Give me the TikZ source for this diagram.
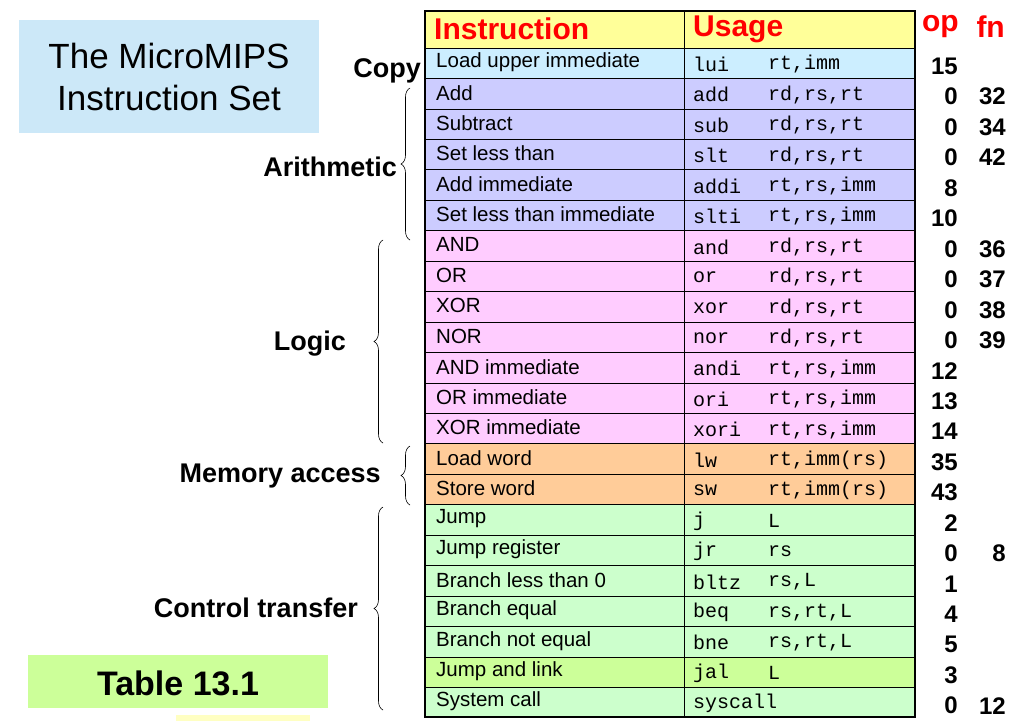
\documentclass[tikz,border=0pt]{standalone}
\usepackage{fontspec}
\setmainfont{Liberation Sans}
\setmonofont{Liberation Mono}
\usetikzlibrary{decorations.pathreplacing}
\definecolor{hdr}{HTML}{FFFF99}
\definecolor{cpy}{HTML}{CCEEFF}
\definecolor{ari}{HTML}{CCCCFF}
\definecolor{lgc}{HTML}{FFCCFF}
\definecolor{mem}{HTML}{FFCC99}
\definecolor{ctl}{HTML}{CCFFCC}
\definecolor{jal}{HTML}{CCFF99}
\definecolor{ttl}{HTML}{CCE8F8}
\definecolor{red1}{HTML}{FF0000}
\begin{document}
\begin{tikzpicture}[x=1pt,y=-1pt,
  cell/.style={draw=black,line width=0.8pt},
  itxt/.style={anchor=west,font=\fontsize{20.5}{20.5}\selectfont,inner sep=0},
  utxt/.style={anchor=west,font=\ttfamily\fontsize{20}{20}\selectfont,inner sep=0},
  num/.style={anchor=east,font=\bfseries\fontsize{24}{24}\selectfont,inner sep=0},
  grp/.style={anchor=east,font=\bfseries\fontsize{27}{27}\selectfont,inner sep=0},
  hd/.style={font=\bfseries\fontsize{30}{30}\selectfont,text=red1,inner sep=0},
  brc/.style={decorate,decoration={brace,amplitude=9pt},line width=0.6pt}]
\useasboundingbox (0,0) rectangle (1024,721);
\fill[white] (0,0) rectangle (1024,721);
% title boxes
\fill[ttl] (19,20) rectangle (319,133);
\node[align=center,font=\fontsize{35}{42}\selectfont] (title) at (169,77) {The MicroMIPS\\Instruction Set};
\fill[jal] (28,655) rectangle (328,708);
\node[font=\bfseries\fontsize{34}{34}\selectfont] (tab) at (178,683) {Table 13.1};
\fill[hdr!60] (176,715) rectangle (310,721);
% header
\fill[hdr] (425,11) rectangle (915,48);
\node[hd,anchor=west] (hi) at (434,29) {Instruction};
\node[hd,anchor=west] (hu) at (693,29) {Usage};
\node[hd,anchor=east] (hop) at (959,27) {op};
\node[hd,anchor=east] (hfn) at (1005,27) {fn};
\def\rh{30.45}
\foreach \i/\c/\t/\m/\o/\op/\fn in {
0/cpy/Load upper immediate/lui/{rt,imm}/15/,
1/ari/Add/add/{rd,rs,rt}/0/32,
2/ari/Subtract/sub/{rd,rs,rt}/0/34,
3/ari/Set less than/slt/{rd,rs,rt}/0/42,
4/ari/Add immediate/addi/{rt,rs,imm}/8/,
5/ari/Set less than immediate/slti/{rt,rs,imm}/10/,
6/lgc/AND/and/{rd,rs,rt}/0/36,
7/lgc/OR/or/{rd,rs,rt}/0/37,
8/lgc/XOR/xor/{rd,rs,rt}/0/38,
9/lgc/NOR/nor/{rd,rs,rt}/0/39,
10/lgc/AND immediate/andi/{rt,rs,imm}/12/,
11/lgc/OR immediate/ori/{rt,rs,imm}/13/,
12/lgc/XOR immediate/xori/{rt,rs,imm}/14/,
13/mem/Load word/lw/{rt,imm(rs)}/35/,
14/mem/Store word/sw/{rt,imm(rs)}/43/,
15/ctl/Jump/j/L/2/,
16/ctl/Jump register/jr/rs/0/8,
17/ctl/Branch less than 0/bltz/{rs,L}/1/,
18/ctl/Branch equal/beq/{rs,rt,L}/4/,
19/ctl/Branch not equal/bne/{rs,rt,L}/5/,
20/jal/Jump and link/jal/L/3/,
21/ctl/System call/syscall//0/12}{
  \pgfmathsetmacro\ya{48+\i*\rh}
  \pgfmathsetmacro\yb{48+(\i+1)*\rh}
  \pgfmathsetmacro\ym{48+(\i+0.5)*\rh}
  \fill[\c] (425,\ya) rectangle (915,\yb);
  \node[itxt] (i\i) at (436,\ym-1) {\t};
  \node[utxt] (m\i) at (693,\ym+1) {\m};
  \node[utxt] (o\i) at (768,\ym+1) {\o};
  \node[num] (op\i) at (958,\ym+3) {\op};
  \node[num] (fn\i) at (1006,\ym+3) {\fn};
}
\foreach \i in {0,...,21}{
  \pgfmathsetmacro\ya{48+\i*\rh}
  \draw[cell] (425,\ya) -- (915,\ya);
}
\draw[cell] (684,11) -- (684,717);
\draw[line width=2.5pt] (425,11) rectangle (915,717);
% group labels and braces
\node[grp] (gc) at (421,71) {Copy};
\node[grp] (ga) at (397,167) {Arithmetic};
\node[grp] (gl) at (346,344) {Logic};
\node[grp] (gm) at (381,476) {Memory access};
\node[grp] (gt) at (358,608) {Control transfer};
\draw[brc] (410,240) -- (410,88);
\draw[brc] (383,443) -- (383,240);
\draw[brc] (410,505) -- (410,446);
\draw[brc] (383,710) -- (383,507);
\end{tikzpicture}
\end{document}
